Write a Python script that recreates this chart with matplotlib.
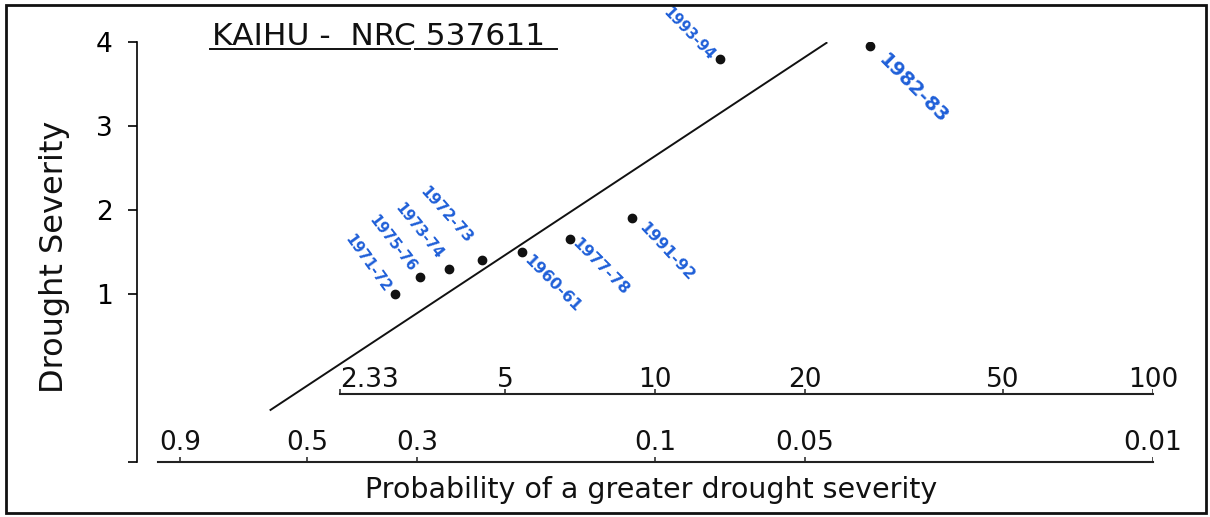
import numpy as np
import matplotlib
matplotlib.use("Agg")
import matplotlib.pyplot as plt
from matplotlib.lines import Line2D
from matplotlib.patches import Rectangle
from matplotlib.ticker import NullLocator

# data
seasons = ["1971-72", "1975-76", "1973-74", "1972-73", "1960-61",
           "1977-78", "1991-92", "1993-94", "1982-83"]
return_period = [3.0, 3.38, 3.86, 4.5, 5.4, 6.75, 9.0, 13.5, 27.0]
severity = [1.0, 1.2, 1.3, 1.4, 1.5, 1.65, 1.9, 3.8, 3.95]

fit_T = [1.69, 22.1]
fit_severity = [-0.38, 3.99]

period_ticks = [2.33, 5, 10, 20, 50, 100]
period_labels = ["2.33", "5", "10", "20", "50", "100"]
prob_ticks = [0.9, 0.5, 0.3, 0.1, 0.05, 0.01]
prob_labels = ["0.9", "0.5", "0.3", "0.1", "0.05", "0.01"]
severity_ticks = [1, 2, 3, 4]

# layout (pixels): label offsets right/down from each point, font size, angle
label_offsets = [(-27, -31), (-28, -34), (-30, -38), (-36, -45), (31, 32),
                 (30, 27), (34, 33), (-31, -25), (44, 43)]
label_sizes = [10.5, 10.5, 10.5, 11, 11.5, 11.5, 11.5, 10.5, 14]
label_angles = [-54, -52, -51, -48, -45, -45, -47, -46, -45]

W, H = 1210, 517
fig = plt.figure(figsize=(W / 100, H / 100), dpi=100)


def T_at(px):
    # log10 return period scale: 10 at px 654, 497 px per decade
    return 10 ** (1 + (px - 654) / 497)


ax = fig.add_axes([137 / W, (H - 462) / H, (1153 - 137) / W, 420 / H])
ax.set_xscale("log")
ax.set_xlim(T_at(137), 100)
ax.set_ylim(-1, 4)
ax.xaxis.set_major_locator(NullLocator())
ax.xaxis.set_minor_locator(NullLocator())
for s in ["top", "right", "bottom"]:
    ax.spines[s].set_visible(False)
ax.spines["left"].set_linewidth(1.2)
ax.set_yticks([-1] + severity_ticks)
ax.set_yticklabels([""] + [str(v) for v in severity_ticks])
ax.tick_params(axis="y", length=6.5, width=1.2, labelsize=19, pad=11)
ax.patch.set_alpha(0)

# fitted line and points
ax.plot(fit_T, fit_severity, color="#111111", lw=1.4)
ax.plot(return_period, severity, "o", color="#111111", ms=6)

for name, T, s, (dx, dy), fs, ang in zip(seasons, return_period, severity,
                                          label_offsets, label_sizes, label_angles):
    ax.annotate(name, (T, s), xytext=(dx * 0.72, -dy * 0.72),
                textcoords="offset points", ha="center", va="center",
                rotation=ang, fontsize=fs, color="#1f5fd8", fontweight="bold",
                annotation_clip=False)

# return period scale
per_px = 1 / 84
y_top = -0.19
ax.plot([period_ticks[0], period_ticks[-1]], [y_top, y_top], color="#222222",
        lw=1.5, clip_on=False)
ax.vlines(period_ticks, y_top, y_top + 5 * per_px, color="#222222", lw=1.1)
for T, lab in zip(period_ticks, period_labels):
    ax.text(T, y_top + 7 * per_px, lab, ha="left" if lab == "2.33" else "center",
            va="baseline", fontsize=19, color="#111111")

# probability scale
y_bot = -1.0
prob_T = [1 / p for p in prob_ticks]
ax.plot([T_at(158), 100], [y_bot, y_bot], color="#222222", lw=1.5, clip_on=False)
ax.vlines(prob_T, y_bot, y_bot + 5 * per_px, color="#222222", lw=1.1)
for T, lab in zip(prob_T, prob_labels):
    ax.text(T, y_bot + 12 * per_px, lab, ha="center", va="baseline",
            fontsize=19, color="#111111")

# labels and title
fig.text(651 / W, 1 - 490 / H, "Probability of a greater drought severity",
         ha="center", va="center", fontsize=20.5, color="#111111")
fig.text(55 / W, 1 - 257 / H, "Drought Severity", ha="center", va="center",
         rotation=90, fontsize=23, color="#111111")
fig.text(212 / W, 1 - 45 / H, "KAIHU -  NRC 537611", ha="left", va="baseline",
         fontsize=22.5, color="#111111")
for x0, x1 in [(210, 410), (415, 557)]:
    fig.add_artist(Line2D([x0 / W, x1 / W], [1 - 49 / H, 1 - 49 / H],
                          transform=fig.transFigure, color="#111111", lw=1.4))

fig.add_artist(Rectangle((6 / W, 4 / H), 1200 / W, 508 / H, transform=fig.transFigure,
                         fill=False, lw=2, edgecolor="#111111"))

fig.savefig("out.png", dpi=100)
